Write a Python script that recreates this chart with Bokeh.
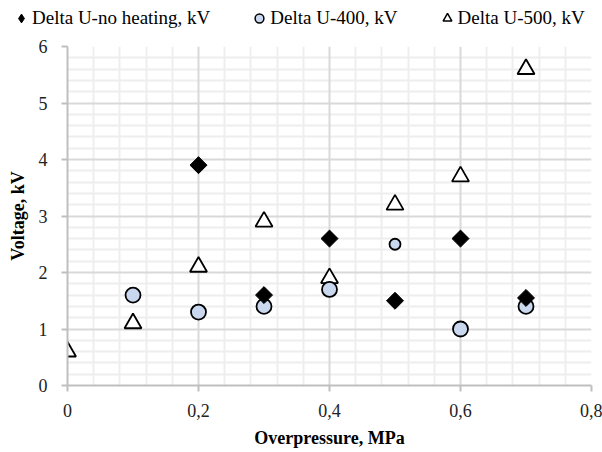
from bokeh.plotting import figure
from bokeh.layouts import column
from bokeh.models import (FixedTicker, Legend, LegendItem, ColumnDataSource, Grid)
from bokeh.embed import file_html
from bokeh.resources import INLINE

# Data
x_noheat = [0.2, 0.3, 0.4, 0.5, 0.6, 0.7]
y_noheat = [3.9, 1.6, 2.6, 1.5, 2.6, 1.55]
x_400 = [0.1, 0.2, 0.3, 0.4, 0.5, 0.6, 0.7]
y_400 = [1.6, 1.3, 1.4, 1.7, 2.5, 1.0, 1.4]
x_500 = [0.0, 0.1, 0.2, 0.3, 0.4, 0.5, 0.6, 0.7]
y_500 = [0.6, 1.1, 2.1, 2.9, 1.9, 3.2, 3.7, 5.6]
x_ticks = [0, 0.2, 0.4, 0.6, 0.8]
x_tick_labels = ["0", "0,2", "0,4", "0,6", "0,8"]
y_ticks = [0, 1, 2, 3, 4, 5, 6]
series_names = ["Delta U-no heating, kV", "Delta U-400, kV", "Delta U-500, kV"]

FONT = "Liberation Serif"
FS = "18px"
ROT = 0.785398

x_minor = [round(i * 0.04, 4) for i in range(21) if i % 5 != 0]
y_minor = [round(i * 0.2, 4) for i in range(31) if i % 5 != 0]

# ---- main plot ----
p = figure(width=602, height=420, output_backend="svg", toolbar_location=None,
           x_range=(0, 0.8), y_range=(0, 6), frame_align=False,
           min_border_left=67, min_border_right=11, min_border_top=14, min_border_bottom=67)
p.outline_line_color = None

p.xaxis.ticker = FixedTicker(ticks=x_ticks)
p.xaxis.major_label_overrides = {t: l for t, l in zip(x_ticks, x_tick_labels)}
p.yaxis.ticker = FixedTicker(ticks=y_ticks)

for ax in (p.xaxis[0], p.yaxis[0]):
    ax.axis_line_color = "#bfbfbf"
    ax.axis_line_width = 2
    ax.major_tick_line_color = "#bfbfbf"
    ax.major_tick_line_width = 2
    ax.major_tick_in = 0
    ax.major_tick_out = 6
    ax.minor_tick_line_color = None
    ax.major_label_text_font = FONT
    ax.major_label_text_font_size = FS
    ax.major_label_text_color = "#222222"
    ax.axis_label_text_font = FONT
    ax.axis_label_text_font_size = FS
    ax.axis_label_text_font_style = "bold"
    ax.axis_label_text_color = "black"

p.xaxis.axis_label = "Overpressure, MPa"
p.yaxis.axis_label = "Voltage, kV"
p.xaxis.major_label_standoff = 12
p.xaxis.axis_label_standoff = 8
p.yaxis.major_label_standoff = 14
p.yaxis.axis_label_standoff = 8

# minor grids (default grids), then major grids drawn above them
p.xgrid[0].ticker = FixedTicker(ticks=x_minor)
p.ygrid[0].ticker = FixedTicker(ticks=y_minor)
for g in (p.xgrid[0], p.ygrid[0]):
    g.grid_line_color = "#eeeeee"
    g.grid_line_width = 2
    g.level = "underlay"
p.add_layout(Grid(dimension=0, ticker=FixedTicker(ticks=x_ticks),
                  grid_line_color="#d9d9d9", grid_line_width=2, level="underlay"))
p.add_layout(Grid(dimension=1, ticker=FixedTicker(ticks=y_ticks),
                  grid_line_color="#d9d9d9", grid_line_width=2, level="underlay"))

src_nh = ColumnDataSource(dict(x=x_noheat, y=y_noheat))
sizes_400 = [15] * len(x_400)
sizes_400[4] = 11
src_400 = ColumnDataSource(dict(x=x_400, y=y_400, s=sizes_400))
src_500 = ColumnDataSource(dict(x=x_500, y=y_500))

p.scatter("x", "y", source=src_500, marker="triangle", size=17,
          fill_color="white", line_color="black", line_width=1.8)
p.scatter("x", "y", source=src_400, marker="circle", size="s",
          fill_color="#c9d8ee", line_color="black", line_width=1.8)
p.scatter("x", "y", source=src_nh, marker="square", size=12, angle=ROT,
          fill_color="black", line_color="black", line_width=1)

# ---- legend strip ----
lf = figure(width=602, height=32, output_backend="svg", toolbar_location=None,
            x_range=(0, 1), y_range=(0, 1), frame_align=False,
            x_axis_location=None, y_axis_location=None,
            min_border_left=0, min_border_right=0, min_border_top=0, min_border_bottom=0)
lf.outline_line_color = None
lf.grid.visible = False
lnh = lf.scatter([-5], [-5], marker="diamond", size=14,
                 fill_color="black", line_color="black")
l400 = lf.scatter([-5], [-5], marker="circle", size=11, fill_color="#c9d8ee",
                  line_color="black", line_width=1.5)
l500 = lf.scatter([-5], [-5], marker="triangle", size=12, fill_color="white",
                  line_color="black", line_width=1.5)
legend = Legend(items=[LegendItem(label=series_names[0], renderers=[lnh]),
                       LegendItem(label=series_names[1], renderers=[l400]),
                       LegendItem(label=series_names[2], renderers=[l500])],
                orientation="horizontal", location=(10, 1),
                label_text_font=FONT, label_text_font_size="19px",
                label_text_color="black", border_line_color=None,
                background_fill_alpha=0, glyph_width=22, glyph_height=26,
                label_height=26, label_standoff=0,
                spacing=38, padding=0, margin=0)
lf.add_layout(legend, "center")

layout = column(lf, p, spacing=0)
open("out.html", "w").write(file_html(layout, INLINE))
